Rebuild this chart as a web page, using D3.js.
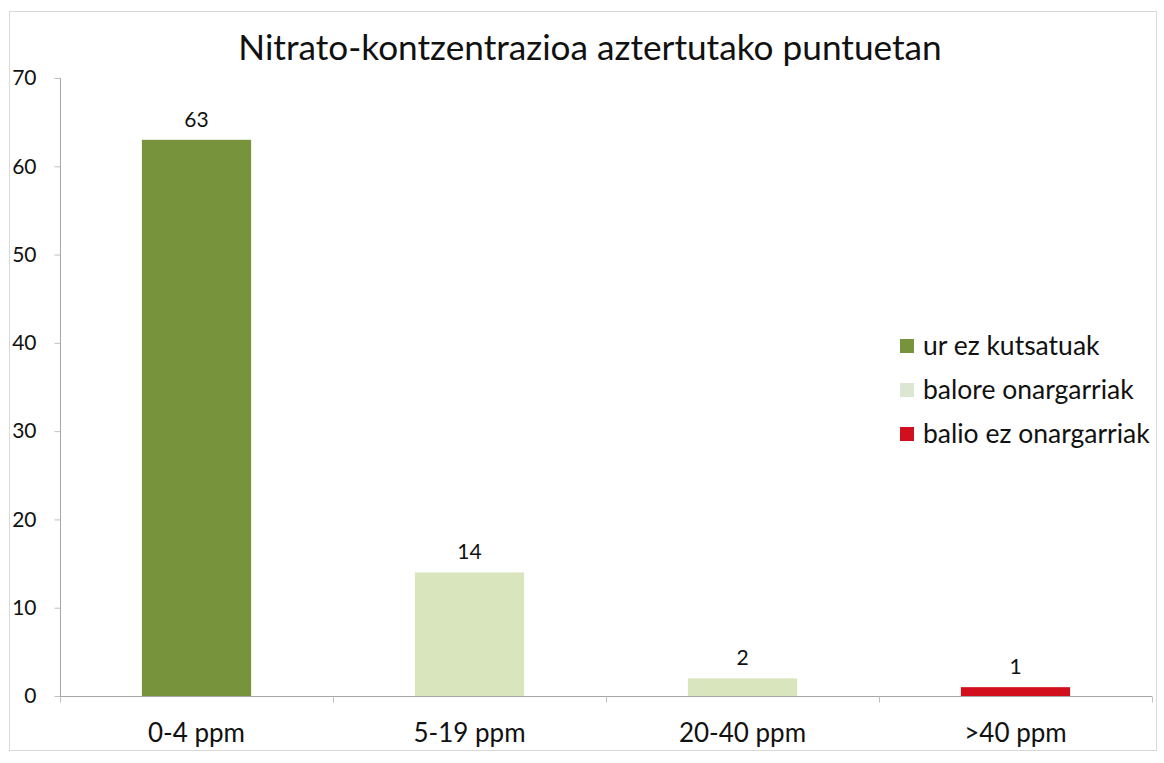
<!DOCTYPE html>
<html><head><meta charset="utf-8">
<script src="https://cdn.jsdelivr.net/npm/d3@7"></script>
<style>body{margin:0;background:#fff;} svg{display:block;font-family:Lato,"Open Sans",sans-serif;}</style>
</head><body>
<script>
const categories = ["0-4 ppm", "5-19 ppm", "20-40 ppm", ">40 ppm"];
const values = [63, 14, 2, 1];
const barColors = ["#77933c", "#d8e5bd", "#d8e5bd", "#d20f1c"];
const legendLabels = ["ur ez kutsatuak", "balore onargarriak", "balio ez onargarriak"];
const legendColors = ["#77933c", "#dde5d3", "#d20f1c"];
const yTicks = [0, 10, 20, 30, 40, 50, 60, 70];
const title = "Nitrato-kontzentrazioa aztertutako puntuetan";

const W = 1164, H = 763;
const svg = d3.select("body").append("svg").attr("width", W).attr("height", H);

svg.append("rect").attr("x", 9.5).attr("y", 11.5).attr("width", 1147).attr("height", 739)
  .attr("fill", "#fff").attr("stroke", "#d9d9d9");

const x = d3.scaleBand().domain(categories).range([60, 1152]).paddingInner(0.6).paddingOuter(0.3);
const xb = d3.scaleBand().domain(categories).range([60, 1152]);
const y = d3.scaleLinear().domain([0, 70]).range([696, 78]);

// y axis
const ya = svg.append("g").attr("transform", "translate(60.5,0)")
  .call(d3.axisLeft(y).tickValues(yTicks).tickSize(6).tickPadding(18));
ya.select(".domain").attr("stroke", "#a6a6a6").attr("d", `M0,${y(70)}V${y(0)}`);
ya.selectAll(".tick line").attr("stroke", "#bfbfbf");
ya.selectAll(".tick text").attr("font-size", 21).attr("fill", "#111").attr("font-family", "Lato");

// x axis
const xa = svg.append("g").attr("transform", "translate(0,696.5)");
xa.append("line").attr("x1", 60).attr("x2", 1152).attr("stroke", "#a6a6a6");
xa.selectAll("line.t").data(categories.concat(["end"])).join("line").attr("class", "t")
  .attr("x1", (d, i) => i < categories.length ? Math.round(xb(d)) + 0.5 : 1152.5)
  .attr("x2", (d, i) => i < categories.length ? Math.round(xb(d)) + 0.5 : 1152.5)
  .attr("y1", 0).attr("y2", 6).attr("stroke", "#bfbfbf");
xa.selectAll("text").data(categories).join("text")
  .attr("x", d => xb(d) + xb.bandwidth() / 2).attr("y", 45)
  .attr("text-anchor", "middle").attr("font-size", 26).attr("fill", "#111").text(d => d);

// bars
svg.selectAll("rect.bar").data(values).join("rect").attr("class", "bar")
  .attr("x", (d, i) => x(categories[i])).attr("width", x.bandwidth())
  .attr("y", d => y(d)).attr("height", d => y(0) - y(d))
  .attr("fill", (d, i) => barColors[i]);

svg.selectAll("text.lbl").data(values).join("text").attr("class", "lbl")
  .attr("x", (d, i) => x(categories[i]) + x.bandwidth() / 2).attr("y", d => y(d) - 13)
  .attr("text-anchor", "middle").attr("font-size", 21).attr("fill", "#111").text(d => d);

// title
svg.append("text").attr("x", 590).attr("y", 60).attr("text-anchor", "middle")
  .attr("font-size", 35.2).attr("fill", "#111").text(title);

// legend
const lg = svg.append("g");
legendLabels.forEach((l, i) => {
  const cy = 346 + i * 44;
  lg.append("rect").attr("x", 900).attr("y", cy - 7).attr("width", 14).attr("height", 14).attr("fill", legendColors[i]);
  lg.append("text").attr("x", 923).attr("y", cy + 9).attr("font-size", 26.5).attr("fill", "#111").text(l);
});
</script>
</body></html>
